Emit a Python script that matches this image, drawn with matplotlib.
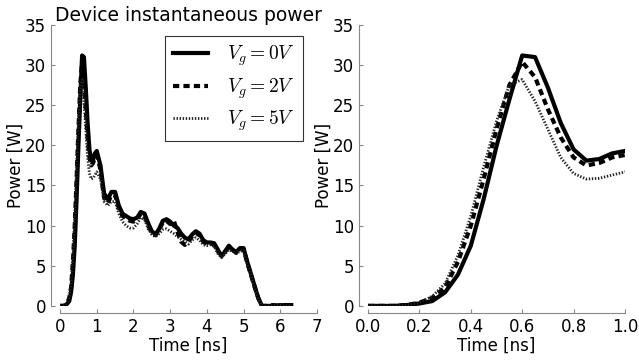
import numpy as np
import matplotlib
matplotlib.use("Agg")
import matplotlib.pyplot as plt

plt.rcParams['mathtext.fontset'] = 'cm'
plt.rcParams['lines.scale_dashes'] = False

# time axis [ns]: fine part 0..1 then coarse part up to 6.3
t = [0.0, 0.05, 0.1, 0.15, 0.2, 0.25, 0.3, 0.35, 0.4, 0.45, 0.5,
     0.55, 0.6, 0.65, 0.7, 0.75, 0.8, 0.85, 0.9, 0.95, 1.0,
     1.1, 1.2, 1.3, 1.4, 1.5, 1.6, 1.7, 1.8, 1.9, 2.0,
     2.1, 2.2, 2.3, 2.4, 2.5, 2.6, 2.7, 2.8, 2.9, 3.0,
     3.1, 3.2, 3.3, 3.4, 3.5, 3.6, 3.7, 3.8, 3.9, 4.0,
     4.1, 4.2, 4.3, 4.4, 4.5, 4.6, 4.7, 4.8, 4.9, 5.0,
     5.1, 5.2, 5.3, 5.4, 5.5, 5.6, 5.8, 6.0, 6.1, 6.2, 6.3]

p_0v = [0.0, 0.0, 0.0, 0.1, 0.3, 0.6, 1.7, 3.9, 7.5, 13.3, 19.9,
        25.7, 31.2, 31.0, 27.2, 22.8, 19.5, 18.1, 18.3, 19.0, 19.3,
        17.5, 14.0, 13.3, 14.2, 14.2, 12.5, 11.5, 11.2, 10.9, 10.8,
        11.0, 11.7, 11.5, 10.3, 9.3, 8.9, 9.6, 10.6, 10.8, 10.5,
        10.0, 9.7, 9.0, 8.5, 8.3, 8.9, 9.3, 9.0, 8.2, 7.9,
        7.9, 7.8, 7.0, 6.2, 6.8, 7.5, 7.0, 6.7, 7.2, 7.2,
        5.5, 4.0, 2.5, 1.0, 0.0, 0.0, 0.0, 0.1, 0.0, 0.1, 0.1]

p_2v = [0.0, 0.0, 0.0, 0.1, 0.4, 1.0, 2.3, 5.5, 10.0, 15.8, 22.0,
        27.5, 30.4, 28.5, 24.5, 21.0, 18.5, 17.5, 17.8, 18.5, 18.8,
        17.0, 13.5, 12.8, 13.8, 13.8, 12.2, 11.2, 10.9, 10.6, 10.5,
        10.8, 11.5, 11.2, 10.0, 9.1, 8.8, 9.5, 10.4, 10.6, 10.2,
        10.6, 9.2, 8.0, 7.6, 8.0, 8.7, 9.1, 8.8, 8.0, 7.7,
        7.8, 7.6, 6.8, 6.3, 6.8, 7.3, 7.0, 6.6, 7.0, 7.1,
        5.4, 3.9, 2.4, 1.0, 0.0, 0.0, 0.1, 0.0, 0.1, 0.1, 0.1]

p_5v = [0.0, 0.0, 0.0, 0.1, 0.4, 1.2, 2.8, 6.3, 11.2, 17.3, 23.0,
        27.5, 28.2, 25.5, 22.0, 18.5, 16.5, 15.8, 15.9, 16.3, 16.7,
        15.8, 13.0, 12.5, 13.0, 13.0, 11.5, 10.5, 10.0, 9.7, 9.7,
        10.2, 11.0, 10.8, 9.6, 8.9, 8.6, 9.0, 9.5, 9.6, 9.3,
        9.0, 8.6, 8.3, 8.0, 7.7, 8.2, 8.5, 8.2, 7.6, 7.5,
        7.6, 7.4, 6.5, 6.0, 6.5, 7.0, 6.8, 6.5, 6.8, 6.9,
        5.3, 3.8, 2.3, 0.9, 0.0, 0.0, 0.0, 0.1, 0.0, 0.0, 0.1]

labels = [r'$V_g=0V$', r'$V_g=2V$', r'$V_g=5V$']


def style_axes(ax, xticks):
    for s in ['top', 'right']:
        ax.spines[s].set_visible(False)
    ax.spines['left'].set_position(('outward', 6.5))
    ax.spines['bottom'].set_position(('outward', 5))
    for s in ['left', 'bottom']:
        ax.spines[s].set_color('#888888')
        ax.spines[s].set_linewidth(0.8)
    ax.spines['bottom'].set_bounds(xticks[0], xticks[-1])
    ax.spines['left'].set_bounds(0, 35)
    ax.set_xticks(xticks)
    ax.set_yticks(np.arange(0, 36, 5))
    ax.set_ylim(0, 35)
    ax.tick_params(direction='in', length=3, color='#888888',
                   labelsize=12, top=False, right=False)
    ax.set_xlabel('Time [ns]', fontsize=12, labelpad=1)
    ax.set_ylabel('Power [W]', fontsize=12, labelpad=0)


fig = plt.figure(figsize=(6.39, 3.62), dpi=100)
ax1 = fig.add_axes([0.094, 0.155, 0.402, 0.776])
ax2 = fig.add_axes([0.576, 0.155, 0.402, 0.776])

for ax in [ax1, ax2]:
    ax.plot(t, p_0v, '-', color='k', lw=3, label=labels[0])
    ax.plot(t, p_2v, color='k', lw=3, dashes=(4.5, 3), label=labels[1])
    ax.plot(t, p_5v, color='#222222', lw=2, dashes=(1, 1.2), label=labels[2])

ax1.set_xlim(0, 7)
ax2.set_xlim(0, 1)
style_axes(ax1, list(range(0, 8)))
style_axes(ax2, [0.0, 0.2, 0.4, 0.6, 0.8, 1.0])
ax2.set_xticklabels(['0.0', '0.2', '0.4', '0.6', '0.8', '1.0'])

ax1.set_title('Device instantaneous power', fontsize=13.5, pad=2)

leg = ax1.legend(loc='upper right', bbox_to_anchor=(0.945, 0.96),
                 fontsize=14, fancybox=False, borderaxespad=0,
                 handlelength=1.8, handletextpad=1.0, labelspacing=0.4)
leg.get_frame().set_edgecolor('k')
leg.get_frame().set_linewidth(0.8)

fig.savefig('out.png', dpi=100)
